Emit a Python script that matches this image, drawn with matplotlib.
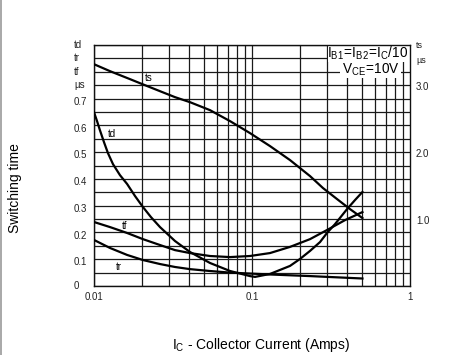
import numpy as np
import matplotlib
matplotlib.use("Agg")
import matplotlib.pyplot as plt
from matplotlib.patches import Rectangle
from matplotlib.lines import Line2D

plt.rcParams['font.family'] = ['Liberation Sans', 'DejaVu Sans']
plt.rcParams['mathtext.fontset'] = 'custom'
plt.rcParams['mathtext.rm'] = 'Liberation Sans'

# Data (collector current in A, switching times in microseconds)
ic_ts = [0.01, 0.01263, 0.0169, 0.0210, 0.02617, 0.03256, 0.0405, 0.0542, 0.0726, 0.0971, 0.130, 0.174,
         0.2329, 0.2814, 0.3451, 0.4171, 0.5]
ts = [3.313, 3.209, 3.090, 3.0, 2.910, 2.821, 2.746, 2.627, 2.463, 2.284, 2.090, 1.881,
      1.642, 1.463, 1.299, 1.149, 1.015]

ic_td = [0.01, 0.01045, 0.0109, 0.01157, 0.01226, 0.01319, 0.0146, 0.0162, 0.01818, 0.0204, 0.02296,
         0.02617, 0.03256, 0.0405, 0.0542, 0.0726, 0.0971, 0.1045, 0.130, 0.174, 0.2013, 0.2329,
         0.2694, 0.2983, 0.3352, 0.3993, 0.4487, 0.5]
td = [0.649, 0.616, 0.582, 0.537, 0.496, 0.455, 0.414, 0.381, 0.336, 0.295, 0.257,
      0.220, 0.168, 0.127, 0.086, 0.056, 0.037, 0.034, 0.045, 0.075, 0.101, 0.131,
      0.164, 0.198, 0.231, 0.287, 0.321, 0.351]

ic_tr = [0.01, 0.01263, 0.0162, 0.0204, 0.02617, 0.03256, 0.0405, 0.0542, 0.0726, 0.130, 0.2329, 0.5]
tr = [0.172, 0.142, 0.116, 0.097, 0.082, 0.071, 0.063, 0.056, 0.050, 0.043, 0.037, 0.028]

ic_tf = [0.01, 0.01263, 0.0162, 0.0204, 0.02617, 0.03256, 0.0405, 0.0542, 0.0726, 0.0971, 0.130,
         0.174, 0.2329, 0.2983, 0.3878, 0.5]
tf = [0.239, 0.220, 0.198, 0.175, 0.153, 0.134, 0.123, 0.112, 0.108, 0.112, 0.123,
      0.146, 0.175, 0.209, 0.246, 0.276]

left_labels = ['0', '0.1', '0.2', '0.3', '0.4', '0.5', '0.6', '0.7']
left_vals = [0, 0.1, 0.2, 0.3, 0.4, 0.5, 0.6, 0.7]
unit_labels = ['td', 'tr', 'tf', 'µs']
unit_vals = [0.9, 0.85, 0.8, 0.75]
right_labels = ['1.0', '2.0', '3.0']
right_vals = [1.0, 2.0, 3.0]
x_labels = ['0.01', '0.1', '1']
x_vals = [0.01, 0.1, 1]

W, H = 461, 355
fig = plt.figure(figsize=(W / 100, H / 100), dpi=100)
ax = fig.add_axes([94 / W, (H - 286) / H, 316 / W, 241 / H])
ax.set_xscale('log')
ax.set_xlim(0.01, 1)
ax.set_ylim(0, 0.9)
ax.set_xticks([])
ax.set_yticks([])
ax.minorticks_off()

gc = '#1a1a1a'
glw = 0.9
for dec in [0.01, 0.1]:
    for k in range(1, 10):
        ax.axvline(dec * k, color=gc, lw=glw, zorder=1)
for yv in np.arange(0, 0.9001, 0.05):
    ax.axhline(yv, color=gc, lw=glw, zorder=1)
for s in ax.spines.values():
    s.set_linewidth(1.0)
    s.set_color('#111111')


def px2y(py):
    return (286 - py) / 268.0


def px2x(px):
    return 10 ** (-2 + (px - 94) / 158.0)


# white boxes covering the grid behind the condition text
ax.add_patch(Rectangle((0.302, px2y(62)), 1 - 0.302, 0.9 - px2y(62), facecolor='white', edgecolor='none', zorder=2))
ax.add_patch(Rectangle((px2x(340), px2y(78)), px2x(401) - px2x(340), px2y(62) - px2y(78),
                       facecolor='white', edgecolor='none', zorder=2))
ax.text(px2x(368), px2y(53), r'$\mathregular{I_{B1}\!=\!I_{B2}\!=\!I_{C}/10}$', ha='center', va='center',
        fontsize=9.8, zorder=3)
ax.text(px2x(371), px2y(70), r'$\mathregular{V_{CE}\!=\!10V}$', ha='center', va='center', fontsize=9.8, zorder=3)

lw = 1.6
ax.plot(ic_td, td, color='black', lw=lw, zorder=4, solid_joinstyle='round')
ax.plot(ic_tr, tr, color='black', lw=lw, zorder=4, solid_joinstyle='round')
ax.plot(ic_tf, tf, color='black', lw=lw, zorder=4, solid_joinstyle='round')
ax2 = ax.twinx()
ax2.set_ylim(0, 3.6)
ax2.set_yticks([])
ax2.plot(ic_ts, ts, color='black', lw=lw, zorder=4, solid_joinstyle='round')
for s in ax2.spines.values():
    s.set_visible(False)

# curve labels
ax.text(px2x(112), px2y(134), 'td', fontsize=7, ha='center', va='center', zorder=3)
ax.text(px2x(125), px2y(226), 'tf', fontsize=7, ha='center', va='center', zorder=3)
ax.text(px2x(119), px2y(267), 'tr', fontsize=7, ha='center', va='center', zorder=3)
ax.text(px2x(149), px2y(78), 'ts', fontsize=7, ha='center', va='center', zorder=3)

ytr = ax.get_yaxis_transform()
xl = (74 - 94) / 316.0
for lab, v in zip(left_labels, left_vals):
    off = 0.0 if v == 0 else -0.012
    ax.text(xl, v + off, lab, transform=ytr, fontsize=7, ha='left', va='center', color='#222')
for lab, v in zip(unit_labels, unit_vals):
    ax.text(xl, v, lab, transform=ytr, fontsize=7, ha='left', va='center', color='#222')
xr = (416 - 94) / 316.0
for lab, v in zip(right_labels, right_vals):
    ax.text(xr, v / 4.0 - 0.008, lab, transform=ytr, fontsize=7, ha='left', va='center', color='#222')
ax.text(xr, px2y(45), 'ts', transform=ytr, fontsize=6.5, ha='left', va='center', color='#222')
ax.text(xr, px2y(60), 'µs', transform=ytr, fontsize=6.5, ha='left', va='center', color='#222')

xtr = ax.get_xaxis_transform()
for lab, v in zip(x_labels, x_vals):
    ax.text(v, -11 / 241.0, lab, transform=xtr, fontsize=7, ha='center', va='center', color='#222')

fig.text(15 / W, 1 - 188 / H, 'Switching time', rotation=90, ha='center', va='center', fontsize=10)
fig.text(261 / W, 1 - 345 / H, r'I$_\mathregular{C}$ - Collector Current (Amps)', ha='center', va='center',
         fontsize=10)

fig.add_artist(Line2D([0.8 / W, 0.8 / W], [0, 1], color='#999999', lw=1.2, transform=fig.transFigure))

fig.savefig('out.png', dpi=100)
